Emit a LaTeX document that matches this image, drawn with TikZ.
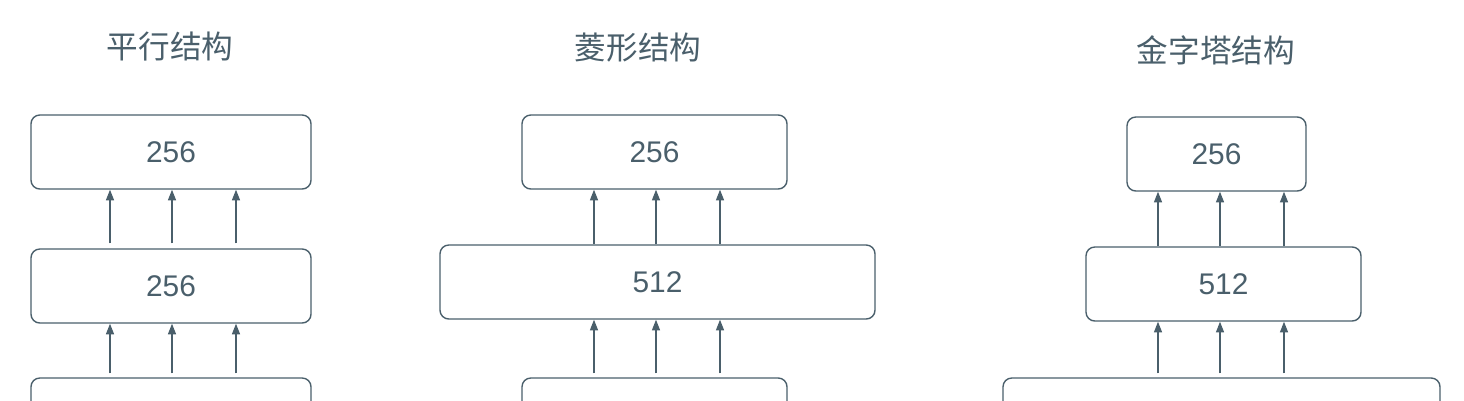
\documentclass[tikz,border=0pt]{standalone}
\usepackage{fontspec}
\setmainfont{Liberation Sans}
\newfontfamily\cjk{Noto Sans CJK SC}
\usetikzlibrary{arrows.meta}
\definecolor{ink}{HTML}{4A5F6B}
\begin{document}
\begin{tikzpicture}[x=0.02cm,y=-0.02cm,
  box/.style={draw=ink,line width=0.8pt,rounded corners=5pt,text=ink,font=\fontsize{17}{20}\selectfont,inner sep=0pt},
  ttl/.style={text=ink,font=\cjk\fontsize{18}{22}\selectfont},
  arr/.style={draw=ink,line width=0.8pt,-{Triangle[length=6pt,width=4.5pt]}}]
\useasboundingbox (0,0) rectangle (1464,400);
\clip (0,0) rectangle (1464,400);
% helper: box from x1,y1 to x2,y2
\newcommand{\bx}[6]{\node[box,minimum width={(#4-#2)*0.02cm},minimum height={(#5-#3)*0.02cm}] (#1) at ({(#2+#4)/2},{(#3+#5)/2}) {#6};}
\node[ttl] (t1) at (170,47) {平行结构};
\node[ttl] (t2) at (638,48) {菱形结构};
\node[ttl] (t3) at (1216,50) {金字塔结构};
\bx{a1}{31}{115}{311}{189}{256}
\bx{a2}{31}{249}{311}{323}{256}
\bx{a3}{31}{378}{311}{452}{}
\bx{b1}{522}{115}{787}{189}{256}
\bx{b2}{440}{245}{875}{319}{512}
\bx{b3}{522}{378}{787}{452}{}
\bx{c1}{1127}{117}{1306}{191}{256}
\bx{c2}{1086}{247}{1361}{321}{512}
\bx{c3}{1003}{378}{1440}{452}{}
\foreach \x in {110,172,236}{
  \draw[arr] (a2.north -| \x,0) ++(0,-5) -- (a1.south -| \x,0);
  \draw[arr] (a3.north -| \x,0) ++(0,-4) -- (a2.south -| \x,0);}
\foreach \x in {594,656,720}{
  \draw[arr] (b2.north -| \x,0) -- (b1.south -| \x,0);
  \draw[arr] (b3.north -| \x,0) ++(0,-4) -- (b2.south -| \x,0);}
\foreach \x in {1158,1220,1284}{
  \draw[arr] (c2.north -| \x,0) -- (c1.south -| \x,0);
  \draw[arr] (c3.north -| \x,0) ++(0,-4) -- (c2.south -| \x,0);}
\end{tikzpicture}
\end{document}
